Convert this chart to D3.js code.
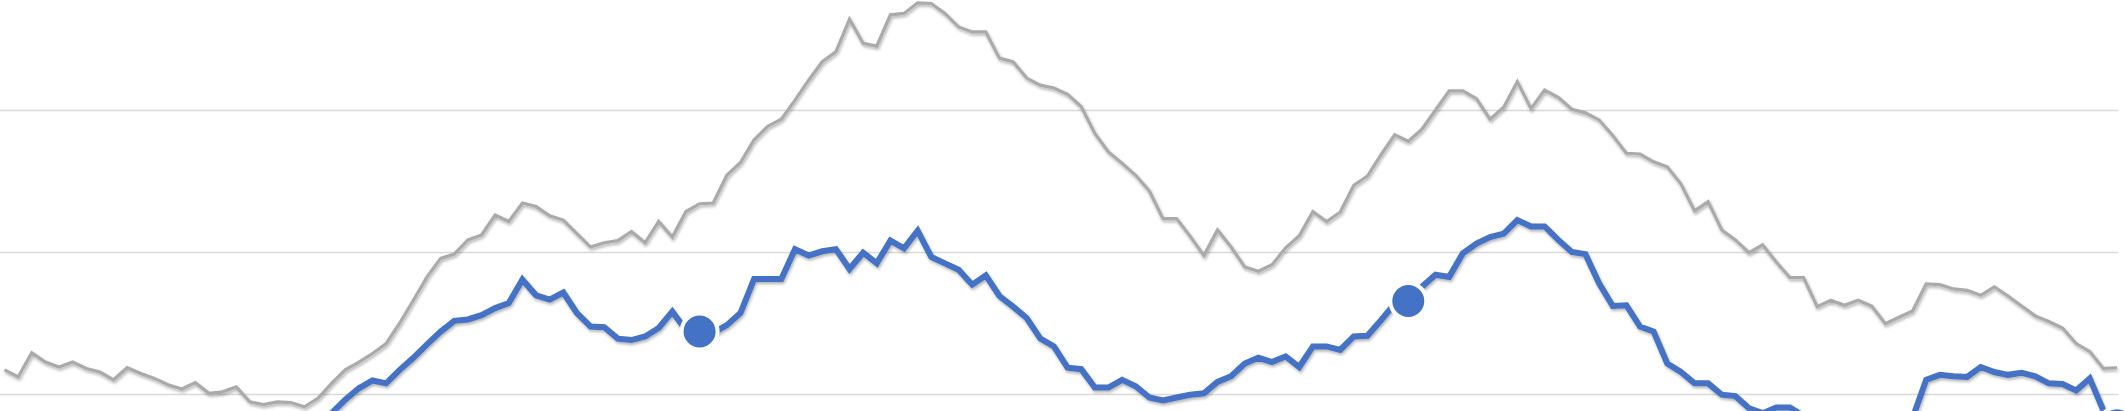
<!DOCTYPE html>
<html>
<head>
<meta charset="utf-8">
<script src="https://cdn.jsdelivr.net/npm/d3@7"></script>
<style>
  html, body { margin: 0; padding: 0; background: #ffffff; overflow: hidden; }
  svg { display: block; }
</style>
</head>
<body>
<svg id="chart" width="2124" height="411"></svg>
<script>
// ---- data (weekly values) ----
const grayValues = [
  23.4,22.4,25.8,24.5,23.8,24.5,23.6,23.1,22.0,23.7,
  22.9,22.2,21.3,20.7,21.6,20.1,20.3,21.0,18.9,18.5,
  18.9,18.8,18.2,19.4,21.5,23.4,24.5,25.7,27.1,30.0,
  33.2,36.5,39.1,39.7,41.7,42.4,45.2,44.3,46.9,46.4,
  45.1,44.5,42.6,40.7,41.3,41.6,42.9,41.3,44.3,42.1,
  45.7,46.8,46.9,50.8,52.6,55.8,57.7,58.7,61.4,64.2,
  66.8,68.2,72.8,69.4,69.0,73.4,73.6,75.1,75.0,73.6,
  71.7,71.0,71.0,67.3,66.8,64.5,63.5,63.1,62.2,60.5,
  56.7,54.1,52.5,50.8,48.6,44.7,44.7,42.2,39.5,43.1,
  40.7,37.9,37.3,38.2,40.6,42.3,45.7,44.3,45.6,49.4,
  50.7,53.7,56.5,55.6,57.3,60.0,62.7,62.7,61.6,58.7,
  60.4,64.0,60.2,62.8,61.8,60.1,59.6,58.6,56.4,53.9,
  53.8,52.7,52.0,49.6,45.8,47.1,43.1,41.7,39.9,41.0,
  38.6,36.4,36.4,32.3,33.2,32.5,33.2,32.4,29.9,30.8,
  31.7,35.5,35.4,34.8,34.6,33.9,35.1,33.8,32.4,31.0,
  30.2,29.3,27.1,26.0,23.6,23.7
];
const blueValues = [
  13.5,12.8,14.5,14.0,13.4,13.8,13.2,12.9,12.2,12.8,
  12.4,12.0,11.5,11.2,11.6,10.9,11.0,11.5,11.2,11.4,
  12.0,12.8,13.9,15.5,17.3,19.2,20.8,21.9,21.5,23.4,
  25.1,27.0,28.8,30.3,30.5,31.1,32.1,32.8,36.1,33.9,
  33.3,34.3,31.4,29.5,29.4,27.8,27.6,28.1,29.3,31.6,
  29.0,28.8,28.6,29.7,31.4,36.2,36.2,36.2,40.4,39.5,
  40.1,40.4,37.6,39.9,38.4,41.6,40.5,43.0,39.3,38.4,
  37.5,35.4,36.7,33.8,32.3,30.7,27.8,26.7,23.7,23.5,
  20.9,20.9,22.0,21.1,19.5,19.1,19.5,19.9,20.1,21.7,
  22.5,24.3,25.1,24.5,25.3,23.8,26.7,26.7,26.2,28.1,
  28.2,30.4,32.7,33.1,35.1,36.8,36.5,39.8,41.2,42.1,
  42.6,44.5,43.6,43.6,41.7,40.0,39.7,35.6,32.4,32.5,
  29.5,28.8,24.3,23.1,21.5,21.5,19.9,19.7,18.0,17.3,
  18.1,18.1,16.9,15.5,14.8,14.5,14.9,14.3,13.8,14.6,
  16.6,22.0,22.7,22.5,22.4,23.8,23.1,22.7,23.0,22.5,
  21.5,21.4,20.5,22.2,17.7,15.6
];
const markerWeeks = [51, 103, 155];   // highlighted points on the blue series
const gridTicks = [20, 40, 60];

// ---- layout ----
const svg = d3.select("#chart");

const x = d3.scaleLinear().domain([0, grayValues.length - 1]).range([4.5, 2117]);
const y = d3.scaleLinear().domain([20, 60]).range([394, 110]);

const defs = svg.append("defs");
const f = defs.append("filter").attr("id", "shadow")
  .attr("x", "-5%").attr("y", "-20%").attr("width", "110%").attr("height", "140%");
f.append("feGaussianBlur").attr("in", "SourceAlpha").attr("stdDeviation", 1.8).attr("result", "b");
f.append("feOffset").attr("in", "b").attr("dx", 1).attr("dy", 1.5).attr("result", "o");
f.append("feFlood").attr("flood-color", "#000").attr("flood-opacity", 0.3).attr("result", "c");
f.append("feComposite").attr("in", "c").attr("in2", "o").attr("operator", "in").attr("result", "s");
const m = f.append("feMerge");
m.append("feMergeNode").attr("in", "s");
m.append("feMergeNode").attr("in", "SourceGraphic");

// gridlines
const yAxis = d3.axisLeft(y).tickValues(gridTicks).tickSize(-2118).tickFormat("");
const g = svg.append("g").call(yAxis);
g.select(".domain").remove();
g.selectAll(".tick line").attr("stroke", "#d9d9d9").attr("stroke-width", 1.5)
  .attr("x1", 0).attr("x2", 2118);

const line = d3.line().x((d, i) => x(i)).y(d => y(d));

svg.append("path")
  .datum(grayValues)
  .attr("d", line)
  .attr("fill", "none")
  .attr("stroke", "#aaaaaa")
  .attr("stroke-width", 3.2)
  .attr("stroke-linejoin", "miter")
  .attr("filter", "url(#shadow)");

svg.append("path")
  .datum(blueValues)
  .attr("d", line)
  .attr("fill", "none")
  .attr("stroke", "#4472c4")
  .attr("stroke-width", 6)
  .attr("stroke-linejoin", "miter")
  .attr("filter", "url(#shadow)");

svg.selectAll("circle.mk")
  .data(markerWeeks)
  .join("circle")
  .attr("class", "mk")
  .attr("cx", d => x(d))
  .attr("cy", d => y(blueValues[d]))
  .attr("r", 18)
  .attr("fill", "#4472c4")
  .attr("stroke", "#ffffff")
  .attr("stroke-width", 4);
</script>
</body>
</html>
